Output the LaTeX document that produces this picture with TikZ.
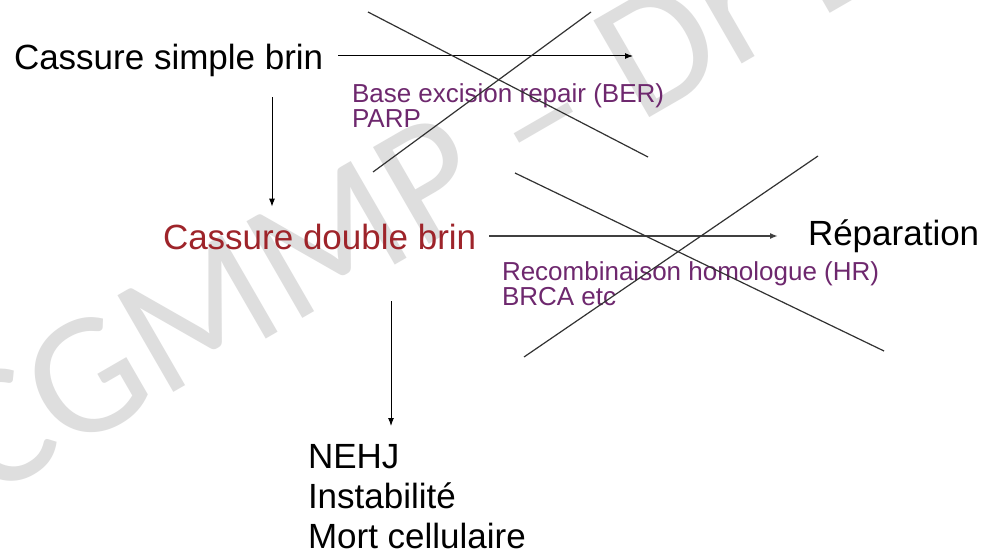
\documentclass[tikz,border=0pt]{standalone}
\usepackage{fontspec}
\setmainfont{Liberation Sans}
\newfontfamily\wmfont{Carlito}
\usetikzlibrary{arrows.meta,calc}
\definecolor{wmgray}{RGB}{222,222,222}
\definecolor{dred}{RGB}{158,36,42}
\definecolor{lpurple}{RGB}{110,40,110}
\definecolor{xline}{RGB}{50,50,50}
\begin{document}
\begin{tikzpicture}[x=1pt,y=-1pt,
  lbl/.style={inner sep=0pt, outer sep=0pt},
  big/.style={lbl, font=\fontsize{35}{40}\selectfont},
  small/.style={lbl, font=\fontsize{26}{25}\selectfont, text=lpurple, align=left},
  arr/.style={-{Latex[length=8pt,width=6pt]}, line width=1pt},
  strike/.style={xline, line width=1.2pt}]
\useasboundingbox (0,0) rectangle (985,559);
\fill[white] (0,0) rectangle (985,559);
% watermark
\node[lbl, text=wmgray, font=\wmfont\fontsize{174}{174}\selectfont, rotate=30, anchor=base west] (wm) at (-13,500) {CGMMP – Dr E};
% texts
\node[big, anchor=base west] (csb) at (14,70) {Cassure simple brin};
\node[big, anchor=base west, text=dred] (cdb) at (163,249) {Cassure double brin};
\node[big, anchor=base west] (rep) at (808,245) {Réparation};
\node[small, anchor=north west] (ber) at (352,84) {Base excision repair (BER)\\PARP};
\node[small, anchor=north west] (hr) at (502,262) {Recombinaison homologue (HR)\\BRCA etc};
\node[big, anchor=north west, align=left] (out) at (308,444) {NEHJ\\Instabilité\\Mort cellulaire};
% helper coordinates
\coordinate (e1) at (633,56);
\coordinate (h2) at (0,236);
\coordinate (v1) at (272,0);
\coordinate (v2) at (391,0);
% connectors
\draw[arr] (csb.east |- e1) ++(15,0) -- (e1);
\draw[arr] (csb.south -| v1) ++(0,20) -- ($(cdb.north -| v1)+(0,-17)$);
\draw[arr, line width=1.6pt, black!75] (cdb.east |- h2) ++(13,0) -- ($(rep.west |- h2)+(-30,0)$);
\draw[arr] (cdb.south -| v2) ++(0,52) -- ($(out.north -| v2)+(0,-18)$);
% strike-through crosses
\draw[strike] (368,12) -- (648,157);
\draw[strike] (373,172) -- (591,12);
\draw[strike] (515,173) -- (884,351);
\draw[strike] (524,357) -- (818,156);
\end{tikzpicture}
\end{document}
